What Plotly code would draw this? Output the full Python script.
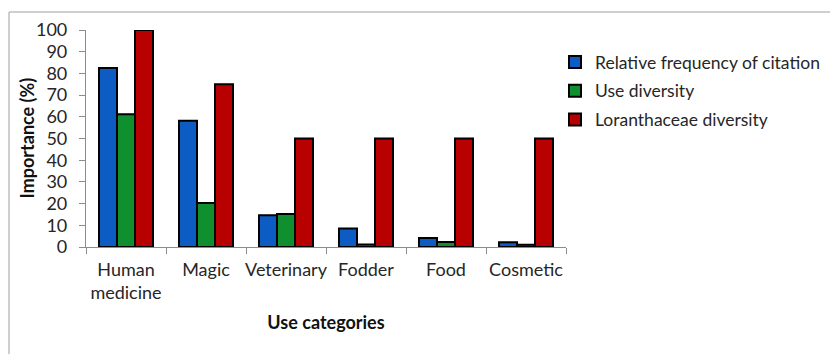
import plotly.graph_objects as go

categories = ["Human<br>medicine", "Magic", "Veterinary", "Fodder", "Food", "Cosmetic"]
rel_freq = [82.5, 58.2, 14.6, 8.5, 4.2, 2.2]
use_div = [61.2, 20.3, 15.2, 1.2, 2.3, 1.0]
lor_div = [100, 75, 50, 50, 50, 50]
series_names = ["Relative frequency of citation", "Use diversity", "Loranthaceae diversity"]
colors = ["#0D5CC4", "#0F8F2E", "#B90000"]

W, H = 830, 354
L, R, T, B = 86, 566, 30, 246.7

fig = go.Figure()
for name, vals, c in zip(series_names, [rel_freq, use_div, lor_div], colors):
    fig.add_trace(go.Bar(x=categories, y=vals, name=name, legendgroup=name,
                         marker=dict(color=c, line=dict(color="#000000", width=2))))

def px2paper_x(px):
    return (px - L) / (R - L)

def px2paper_y(py):
    return (B - py) / (B - T)

fig.update_layout(
    width=W, height=H,
    margin=dict(l=L, r=W - R, t=T, b=H - B, pad=0, autoexpand=False),
    paper_bgcolor="white", plot_bgcolor="white",
    font=dict(family="Lato", size=18, color="#262626"),
    barmode="group", bargap=0.325, bargroupgap=0,
    showlegend=True,
    legend=dict(x=px2paper_x(555), y=px2paper_y(44), xanchor="left", yanchor="top",
                font=dict(family="Lato", size=17.5, color="#262626"),
                tracegroupgap=3, bgcolor="rgba(0,0,0,0)", itemwidth=30),
    xaxis=dict(showline=True, linecolor="#8C8C8C", linewidth=1.2, automargin=False,
               ticks="outside", tickson="boundaries", ticklen=6, tickcolor="#8C8C8C",
               tickangle=0, ticklabelstandoff=6,
               tickfont=dict(family="Lato", size=18, color="#262626"),
               title=dict(text="<b>Use categories</b>", font=dict(family="Lato", size=18, color="#111111"), standoff=14),
               showgrid=False),
    yaxis=dict(range=[0, 100], dtick=10, showline=True, linecolor="#8C8C8C", linewidth=1.2, automargin=False,
               ticks="outside", ticklen=6, tickcolor="#8C8C8C", ticklabelstandoff=8,
               tickfont=dict(family="Lato", size=18, color="#262626"),
               showgrid=False, zeroline=False),
)

# y-axis title placed beside the tick labels
fig.add_annotation(text="<b>Importance (%)</b>", xref="paper", yref="paper",
                   x=px2paper_x(26), y=0.5, xanchor="center", yanchor="middle",
                   textangle=-90, showarrow=False,
                   font=dict(family="Lato", size=18, color="#111111"))

# outer chart frame (top and left edges visible)
fig.add_shape(type="line", xref="paper", yref="paper",
              x0=px2paper_x(9), x1=px2paper_x(W + 5), y0=px2paper_y(12), y1=px2paper_y(12),
              line=dict(color="#BFBFBF", width=1.5))
fig.add_shape(type="line", xref="paper", yref="paper",
              x0=px2paper_x(9), x1=px2paper_x(9), y0=px2paper_y(12), y1=px2paper_y(H + 5),
              line=dict(color="#BFBFBF", width=1.5))

fig.write_html("out.html")
